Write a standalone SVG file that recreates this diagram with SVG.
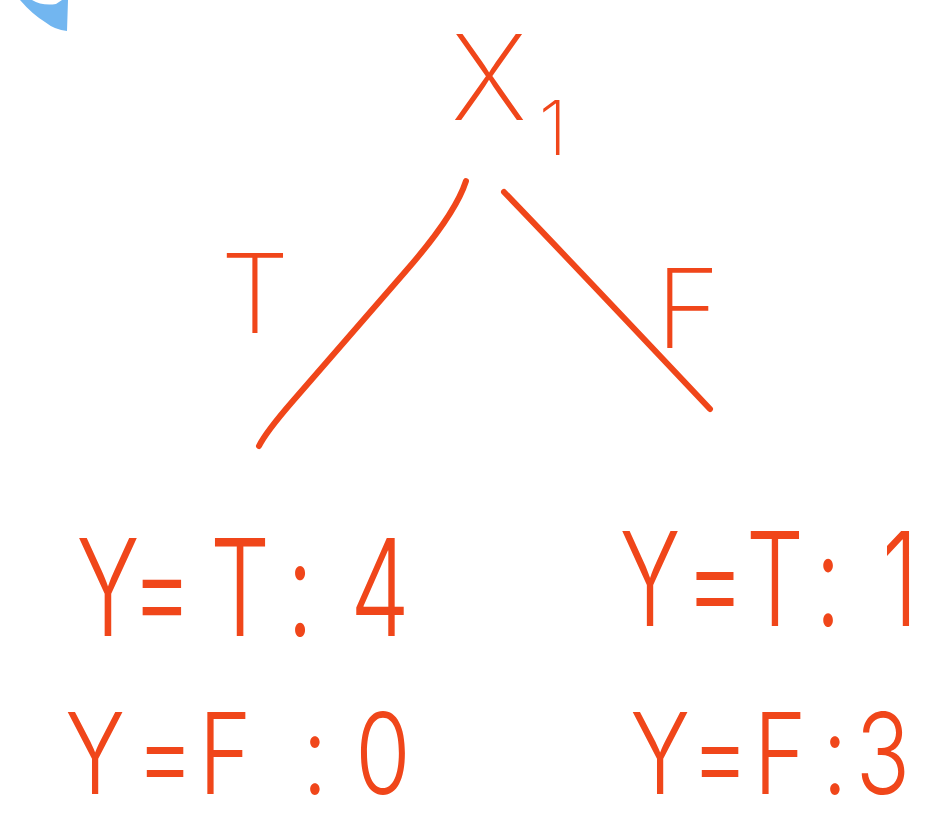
<svg xmlns="http://www.w3.org/2000/svg" width="934" height="822" viewBox="0 0 934 822">
<style>
.t{font-family:Inter,"Open Sans","DejaVu Sans",sans-serif;font-weight:200;fill:#F0461A;text-anchor:middle}
.n{font-weight:300}
.e{fill:none;stroke:#F0461A;stroke-width:6;stroke-linecap:round;stroke-linejoin:round}
</style>
<rect width="934" height="822" fill="#ffffff"/>
<path d="M20,0 L32,0 Q42,6 56,4 L62,0 L68,0 L67,31 Q55,30 45,22 Q32,14 20,0 Z" fill="#72B6F0"/>
<g id="edges">
<path class="e" d="M466,181 Q455,215 405,272 L292,402 Q266,432 259,446"/>
<path class="e" d="M504,192 Q560,250 710,409"/>
<text class="t" x="255" y="333" font-size="110">T</text>
<text class="t" x="688" y="348" font-size="110">F</text>
</g>
<g id="root">
<text class="t" x="489" y="120" font-size="118">X</text>
<text class="t" x="553" y="155" font-size="76">1</text>
</g>
<g id="leafT">
<text class="t n" transform="scale(0.7,1)" font-size="135" x="154.3 231.4 342.9 385.7 428.6 471.4 542.9" y="636">Y=T : 4</text>
<text class="t n" transform="scale(0.8,1)" font-size="112" x="118.75 206.25 281.25 337.5 393.75 437.5 478.75" y="794">Y=F : 0</text>
</g>
<g id="leafF">
<text class="t n" transform="scale(0.7,1)" font-size="130" x="928.6 1021.4 1107.1 1142.9 1182.9 1228.6 1285.7" y="626">Y=T : 1</text>
<text class="t n" transform="scale(0.8,1)" font-size="112" x="825 900 975 1010 1043.75 1075 1103.75" y="794">Y=F : 3</text>
</g>
</svg>
